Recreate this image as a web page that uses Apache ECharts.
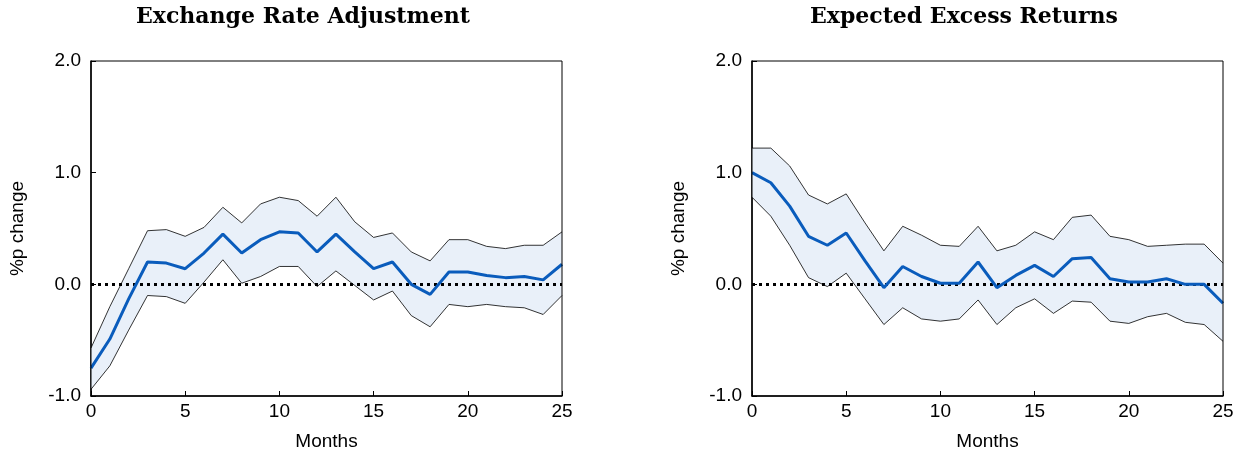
<!DOCTYPE html>
<html>
<head>
<meta charset="utf-8">
<script src="https://cdn.jsdelivr.net/npm/echarts@6/dist/echarts.min.js"></script>
<style>
  html, body { margin: 0; padding: 0; background: #fff; }
  #chart { width: 1242px; height: 456px; }
</style>
</head>
<body>
<div id="chart"></div>
<script>
// months 0..25
const months = [0, 1, 2, 3, 4, 5, 6, 7, 8, 9, 10, 11, 12, 13, 14, 15, 16, 17, 18, 19, 20, 21, 22, 23, 24, 25];

// Exchange rate adjustment
const fxMean = [-0.75, -0.49, -0.13, 0.20, 0.19, 0.14, 0.28, 0.45, 0.28, 0.40, 0.47, 0.46, 0.29,
  0.45, 0.29, 0.14, 0.20, 0.00, -0.09, 0.11, 0.11, 0.08, 0.06, 0.07, 0.04, 0.18];
const fxUpper = [-0.57, -0.20, 0.14, 0.48, 0.49, 0.43, 0.51, 0.69, 0.55, 0.72, 0.78, 0.75, 0.61,
  0.78, 0.56, 0.42, 0.46, 0.29, 0.21, 0.40, 0.40, 0.34, 0.32, 0.35, 0.35, 0.47];
const fxLower = [-0.94, -0.73, -0.41, -0.10, -0.11, -0.17, 0.02, 0.22, 0.01, 0.07, 0.16, 0.16, -0.02,
  0.12, -0.01, -0.14, -0.06, -0.28, -0.38, -0.18, -0.20, -0.18, -0.20, -0.21, -0.27, -0.10];

// Expected excess returns
const erMean = [1.00, 0.91, 0.70, 0.43, 0.35, 0.46, 0.21, -0.03, 0.16, 0.07, 0.01, 0.01, 0.20,
  -0.03, 0.08, 0.17, 0.07, 0.23, 0.24, 0.05, 0.02, 0.02, 0.05, 0.00, 0.00, -0.17];
const erUpper = [1.22, 1.22, 1.06, 0.80, 0.72, 0.81, 0.55, 0.30, 0.52, 0.44, 0.35, 0.34, 0.52,
  0.30, 0.35, 0.47, 0.40, 0.60, 0.62, 0.43, 0.40, 0.34, 0.35, 0.36, 0.36, 0.19];
const erLower = [0.78, 0.61, 0.35, 0.06, -0.02, 0.10, -0.13, -0.36, -0.21, -0.31, -0.33, -0.31, -0.14,
  -0.36, -0.21, -0.13, -0.26, -0.15, -0.16, -0.33, -0.35, -0.29, -0.26, -0.34, -0.36, -0.51];

const titles = ['Exchange Rate Adjustment', 'Expected Excess Returns'];
const yTicks = [-1, 0, 1, 2];

const pairs = (vals) => months.map((m, i) => [m, vals[i]]);

const chart = echarts.init(document.getElementById('chart'));

const lefts = [91, 752];
const panels = [[fxMean, fxUpper, fxLower], [erMean, erUpper, erLower]];
const labelFont = { fontFamily: 'Liberation Sans', fontSize: 19, color: '#000' };

const grids = lefts.map(l => ({
  left: l, top: 61, width: 471, height: 336,
  show: true, borderColor: '#000', borderWidth: 1, z: 10
}));

const xAxes = lefts.map((l, i) => ({
  type: 'value', gridIndex: i, min: 0, max: 25, interval: 5,
  name: 'Months', nameLocation: 'middle', nameGap: 36,
  nameTextStyle: labelFont,
  axisLine: { show: true, onZero: false, lineStyle: { color: '#000', width: 1.5 } },
  axisTick: { show: true, inside: true, length: 5, lineStyle: { color: '#000' } },
  axisLabel: Object.assign({ margin: 6 }, labelFont),
  splitLine: { show: false }
}));

const yAxes = lefts.map((l, i) => ({
  type: 'value', gridIndex: i, min: yTicks[0], max: yTicks[yTicks.length - 1], interval: 1,
  name: '%p change', nameLocation: 'middle', nameGap: 64, nameRotate: 90,
  nameTextStyle: labelFont,
  axisLine: { show: true, lineStyle: { color: '#000', width: 1.5 } },
  axisTick: { show: true, inside: true, length: 5, lineStyle: { color: '#000' } },
  axisLabel: Object.assign({ margin: 10, formatter: v => v.toFixed(1) }, labelFont),
  splitLine: { show: false }
}));

// shaded band: one polygon, upper edge forward then lower edge back
function bandRenderer(hi, lo) {
  return function (params, api) {
    if (params.dataIndex !== 0) return;
    const pts = [];
    months.forEach((m, i) => pts.push(api.coord([m, hi[i]])));
    for (let i = months.length - 1; i >= 0; i--) pts.push(api.coord([months[i], lo[i]]));
    return {
      type: 'polygon',
      shape: { points: pts },
      style: { fill: '#e9f0f9', stroke: null }
    };
  };
}

const series = [];
panels.forEach(([mean, hi, lo], i) => {
  series.push({
    type: 'custom', xAxisIndex: i, yAxisIndex: i, silent: true, z: 1,
    data: pairs(mean),
    renderItem: bandRenderer(hi, lo)
  });
  series.push({
    type: 'line', xAxisIndex: i, yAxisIndex: i, data: pairs(hi), symbol: 'none', z: 3,
    lineStyle: { color: '#000', width: 0.8 }
  });
  series.push({
    type: 'line', xAxisIndex: i, yAxisIndex: i, data: pairs(lo), symbol: 'none', z: 3,
    lineStyle: { color: '#000', width: 0.8 }
  });
  series.push({
    type: 'line', xAxisIndex: i, yAxisIndex: i, data: pairs(mean), symbol: 'none', z: 5,
    lineStyle: { color: '#0a5cbc', width: 3 },
    markLine: {
      silent: true, symbol: 'none', label: { show: false },
      lineStyle: { color: '#000', width: 3, type: [3, 4] },
      data: [{ yAxis: 0 }]
    }
  });
});

chart.setOption({
  animation: false,
  title: titles.map((t, i) => ({
    text: t, left: lefts[i] + 207, top: 1, textAlign: 'center',
    textStyle: { fontFamily: 'DejaVu Serif', fontWeight: 'bold', fontSize: 22, color: '#000' }
  })),
  grid: grids,
  xAxis: xAxes,
  yAxis: yAxes,
  series: series
});
</script>
</body>
</html>
